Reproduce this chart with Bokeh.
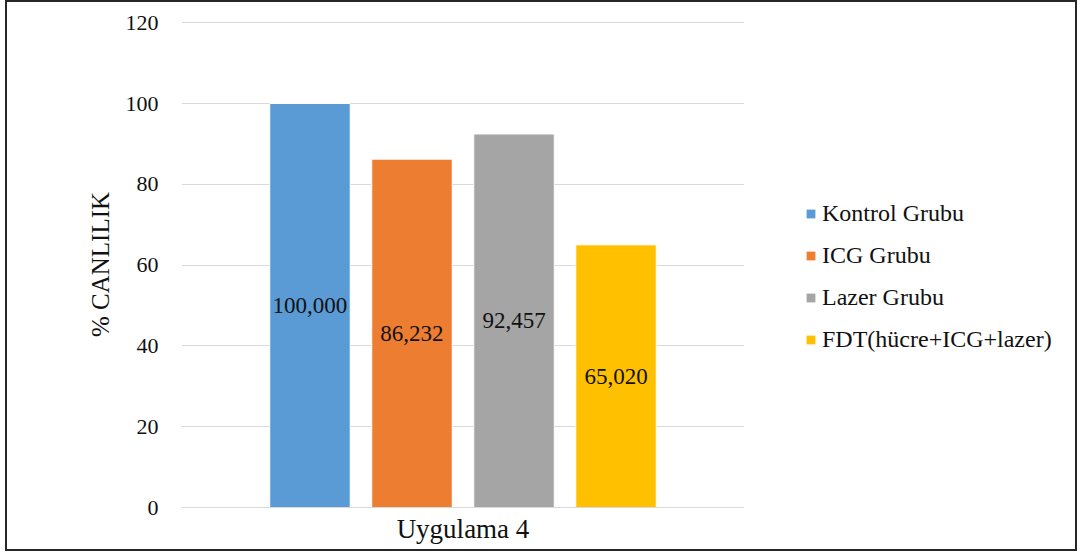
from bokeh.plotting import figure
from bokeh.layouts import row
from bokeh.models import (FactorRange, FixedTicker, ColumnDataSource, Legend,
                          LegendItem, Range1d)
from bokeh.transform import dodge
from bokeh.core.properties import value
from bokeh.embed import file_html
from bokeh.resources import INLINE

# --- data ---
application = "Uygulama 4"
groups = ["Kontrol Grubu", "ICG Grubu", "Lazer Grubu", "FDT(hücre+ICG+lazer)"]
viability = [100.000, 86.232, 92.457, 65.020]
colors = ["#5b9bd5", "#ed7d31", "#a5a5a5", "#ffc000"]
y_ticks = [0, 20, 40, 60, 80, 100, 120]

FONT = "Liberation Serif"
TEXT = "#111111"
HEIGHT = 547

# bar layout inside the single category (fractions of the category width)
STEP = 0.1812
BAR_W = 0.143

p = figure(width=737, height=HEIGHT,
           x_range=FactorRange(application, range_padding=0),
           y_range=(0, 120.3),
           output_backend="svg", toolbar_location=None,
           min_border_left=174, min_border_right=0,
           min_border_top=19, min_border_bottom=42)
p.outline_line_alpha = 0
p.background_fill_color = "white"
p.border_fill_color = "white"

for i, (g, v, c) in enumerate(zip(groups, viability, colors)):
    src = ColumnDataSource(dict(
        x=[application], top=[v], mid=[v / 2],
        label=[f"{v:.3f}".replace(".", ",")],
    ))
    off = (i - (len(groups) - 1) / 2) * STEP
    p.vbar(x=dodge("x", off, range=p.x_range), top="top", width=BAR_W,
           source=src, fill_color=c, line_color="white", line_width=1)
    p.text(x=dodge("x", off, range=p.x_range), y="mid", text="label",
           source=src, text_font=value(FONT), text_font_size="23px",
           text_color=TEXT, text_align="center", text_baseline="middle")

# grid
p.xgrid.grid_line_color = None
p.ygrid.grid_line_color = "#d9d9d9"
p.ygrid.grid_line_width = 1

# y axis
p.yaxis.ticker = FixedTicker(ticks=y_ticks)
p.yaxis.axis_line_color = None
p.yaxis.major_tick_line_color = None
p.yaxis.minor_tick_line_color = None
p.yaxis.major_label_text_font = FONT
p.yaxis.major_label_text_font_size = "22px"
p.yaxis.major_label_text_color = TEXT
p.yaxis.major_label_standoff = 17
p.yaxis.axis_label = "% CANLILIK"
p.yaxis.axis_label_text_font = FONT
p.yaxis.axis_label_text_font_style = "normal"
p.yaxis.axis_label_text_font_size = "25px"
p.yaxis.axis_label_text_color = TEXT
p.yaxis.axis_label_standoff = 9

# x axis
p.xaxis.axis_line_color = "#d9d9d9"
p.xaxis.major_tick_line_color = None
p.xaxis.minor_tick_line_color = None
p.xaxis.major_label_text_font = FONT
p.xaxis.major_label_text_font_size = "27px"
p.xaxis.major_label_text_color = TEXT
p.xaxis.major_label_standoff = 0

# legend panel: hidden swatch renderers supply only their colours
leg = figure(width=331, height=HEIGHT, x_range=Range1d(0, 1),
             y_range=Range1d(0, 1), output_backend="svg",
             toolbar_location=None, min_border=0)
leg.axis.visible = False
leg.grid.visible = False
leg.outline_line_alpha = 0
leg.border_fill_color = "white"

items = []
for g, c in zip(groups, colors):
    r = leg.vbar(x=[0.5], top=[0.5], width=0.1, fill_color=c,
                 line_color=None)
    r.visible = False
    items.append(LegendItem(label=g, renderers=[r]))

lg = Legend(items=items, location=(61, 154), orientation="vertical")
lg.margin = 0
lg.padding = 0
lg.border_line_alpha = 0
lg.background_fill_alpha = 0
lg.inactive_fill_alpha = 0
lg.glyph_width = 11
lg.glyph_height = 11
lg.label_height = 24
lg.spacing = 15
lg.label_standoff = 6
lg.label_text_font = FONT
lg.label_text_font_size = "24px"
lg.label_text_color = TEXT
leg.add_layout(lg)

chart = row(p, leg, spacing=0)
chart.styles = {"border": "2px solid #262626", "margin-left": "5px"}

open("out.html", "w").write(file_html(chart, INLINE))
